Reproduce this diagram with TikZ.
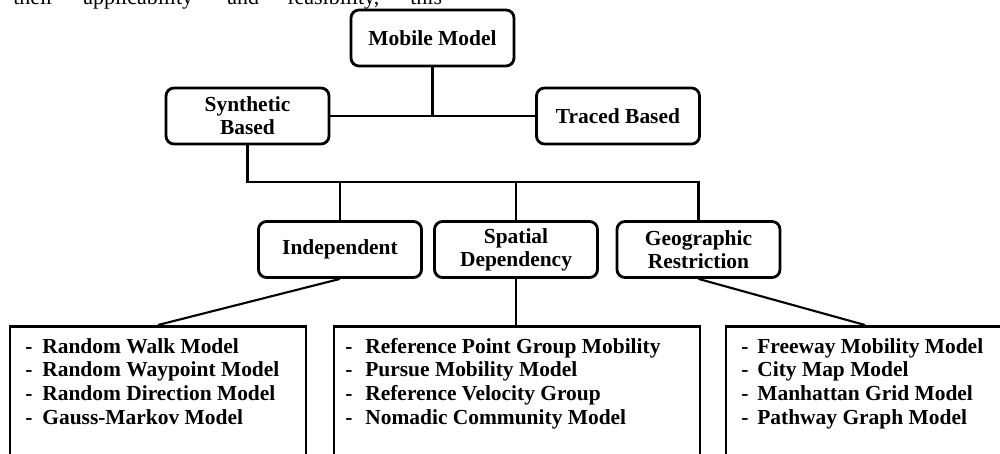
\documentclass[tikz,border=0pt]{standalone}
\usepackage{fontspec}
\setmainfont{Liberation Serif}
\begin{document}
\begin{tikzpicture}[x=0.2mm,y=-0.2mm,
  rbox/.style={draw, line width=1.6pt, rounded corners=1.6mm, minimum width=32.6mm, minimum height=11.2mm, inner sep=0pt, align=center, font=\fontsize{12.2}{13.1}\selectfont\bfseries},
  lbox/.style={draw, line width=1.6pt, minimum height=30mm, anchor=north, inner sep=0pt},
  conn/.style={line width=1.2pt},
  itm/.style={anchor=base west, inner sep=0pt, font=\fontsize{12.2}{13.5}\selectfont\bfseries},
  toptext/.style={anchor=base west, inner sep=0pt, font=\fontsize{12.5}{14}\selectfont}]
\useasboundingbox (0,0) rectangle (1000,454);
\clip (0,0) rectangle (1000,454);

% top cropped text line
\node[toptext] (t1) at (13,5) {their};
\node[toptext] (t2) at (83,5) {applicability};
\node[toptext] (t3) at (227,5) {and};
\node[toptext] (t4) at (287,5) {feasibility,};
\node[toptext] (t5) at (410,5) {this};

% rounded boxes
\node[rbox] (mm)  at (432.5,38) {Mobile Model};
\node[rbox] (syn) at (247.5,116) {Synthetic\\Based};
\node[rbox] (trc) at (618,116) {Traced Based};
\node[rbox] (ind) at (340,249.5) {Independent};
\node[rbox] (spa) at (516,249.5) {Spatial\\Dependency};
\node[rbox] (geo) at (698.5,249.5) {Geographic\\Restriction};

% list boxes
\node[lbox, minimum width=59.2mm] (lb) at (158,325) {};
\node[lbox, minimum width=73.2mm] (mb) at (517,325) {};
\node[lbox, minimum width=55.6mm] (rb) at (865,325) {};

% connectors
\coordinate (bus) at (0,182);
\draw[conn] (syn.east) -- (trc.west);
\draw[conn] (mm.south) -- (mm.south |- syn.east);
\draw[conn] (syn.south) |- (bus -| geo.north) -- (geo.north);
\draw[conn] (ind.north) -- (ind.north |- bus);
\draw[conn] (spa.north) -- (spa.north |- bus);
\draw[conn] (ind.south) -- (lb.north);
\draw[conn] (spa.south) -- (spa.south |- mb.north);
\draw[conn] (geo.south) -- (rb.north);

% lists
\foreach \t [count=\i] in {Random Walk Model, Random Waypoint Model, Random Direction Model, Gauss-Markov Model} {
  \node[itm] (ld\i) at (25,{353+23.67*(\i-1)}) {-};
  \node[itm] (lt\i) at (42,{353+23.67*(\i-1)}) {\t};
}
\foreach \t [count=\i] in {Reference Point Group Mobility, Pursue Mobility Model, Reference Velocity Group, Nomadic Community Model} {
  \node[itm] (md\i) at (345,{353+23.67*(\i-1)}) {-};
  \node[itm] (mt\i) at (365,{353+23.67*(\i-1)}) {\t};
}
\foreach \t [count=\i] in {Freeway Mobility Model, City Map Model, Manhattan Grid Model, Pathway Graph Model} {
  \node[itm] (rd\i) at (741,{353+23.67*(\i-1)}) {-};
  \node[itm] (rt\i) at (757,{353+23.67*(\i-1)}) {\t};
}
\end{tikzpicture}
\end{document}
